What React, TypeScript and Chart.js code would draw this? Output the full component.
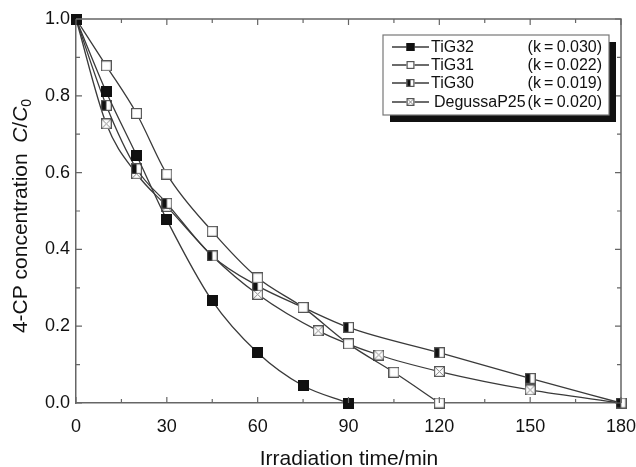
import React, { useEffect, useRef } from "react";
import { Chart, registerables } from "chart.js";
Chart.register(...registerables);

// ---- data ----
const seriesNames = ["TiG32", "TiG31", "TiG30", "DegussaP25"];
const kLabels = ["(k\u2009=\u20090.030)", "(k\u2009=\u20090.022)", "(k\u2009=\u20090.019)", "(k\u2009=\u20090.020)"];

const timesTiG32 = [0, 10, 20, 30, 45, 60, 75, 90];
const valuesTiG32 = [1.0, 0.81, 0.645, 0.477, 0.266, 0.131, 0.045, 0.0];

const timesTiG31 = [0, 10, 20, 30, 45, 60, 75, 90, 105, 120];
const valuesTiG31 = [1.0, 0.878, 0.754, 0.596, 0.447, 0.326, 0.249, 0.154, 0.08, 0.0];

const timesTiG30 = [0, 10, 20, 30, 45, 60, 75, 90, 120, 150, 180];
const valuesTiG30 = [1.0, 0.775, 0.61, 0.52, 0.383, 0.305, 0.249, 0.197, 0.131, 0.064, 0.0];

const timesP25 = [0, 10, 20, 30, 45, 60, 80, 100, 120, 150, 180];
const valuesP25 = [1.0, 0.727, 0.597, 0.512, 0.383, 0.283, 0.188, 0.125, 0.082, 0.034, 0.0];

const xTicks = [0, 30, 60, 90, 120, 150, 180];
const yTicks = [0.0, 0.2, 0.4, 0.6, 0.8, 1.0];

const FONT = "'Liberation Sans', Arial, Helvetica, sans-serif";
const LINE_COLOR = "#3a3a3a";
const AXIS_COLOR = "#666";

type MarkerKind = "filled" | "open" | "half" | "cross";
const markerKinds: MarkerKind[] = ["filled", "open", "half", "cross"];

function drawMarker(ctx: CanvasRenderingContext2D, kind: MarkerKind, cx: number, cy: number, s: number) {
  const x = cx - s / 2;
  const y = cy - s / 2;
  ctx.save();
  ctx.fillStyle = "#fff";
  ctx.fillRect(x, y, s, s);
  if (kind === "filled") {
    ctx.fillStyle = "#111";
    ctx.fillRect(x, y, s, s);
  } else if (kind === "half") {
    ctx.fillStyle = "#111";
    ctx.fillRect(x, y, s / 2, s);
  } else if (kind === "cross") {
    ctx.strokeStyle = "#888";
    ctx.lineWidth = 1;
    ctx.beginPath();
    ctx.moveTo(x + 1, y + 1);
    ctx.lineTo(x + s - 1, y + s - 1);
    ctx.moveTo(x + s - 1, y + 1);
    ctx.lineTo(x + 1, y + s - 1);
    ctx.stroke();
  }
  ctx.strokeStyle = kind === "filled" ? "#111" : "#555";
  ctx.lineWidth = 1.2;
  ctx.strokeRect(x + 0.6, y + 0.6, s - 1.2, s - 1.2);
  ctx.restore();
}

function makeMarkerCanvas(kind: MarkerKind, s: number): HTMLCanvasElement {
  const c = document.createElement("canvas");
  c.width = s;
  c.height = s;
  const ctx = c.getContext("2d")!;
  drawMarker(ctx, kind, s / 2, s / 2, s);
  return c;
}

function toPoints(xs: number[], ys: number[]) {
  return xs.map((x, i) => ({ x, y: ys[i] }));
}

const framePlugin = {
  id: "frame",
  afterDraw(chart: any) {
    const ctx: CanvasRenderingContext2D = chart.ctx;
    const { left, right, top, bottom } = chart.chartArea;
    const xs = chart.scales.x;
    const ys = chart.scales.y;
    ctx.save();
    // top & right border
    ctx.strokeStyle = AXIS_COLOR;
    ctx.lineWidth = 1.5;
    ctx.beginPath();
    ctx.moveTo(left, top);
    ctx.lineTo(right, top);
    ctx.lineTo(right, bottom);
    ctx.stroke();
    // ticks (inward)
    ctx.lineWidth = 1.2;
    ctx.beginPath();
    for (let v = 0; v <= 180; v += 15) {
      const px = xs.getPixelForValue(v);
      const len = v % 30 === 0 ? 6 : 4;
      ctx.moveTo(px, bottom);
      ctx.lineTo(px, bottom - len);
      ctx.moveTo(px, top);
      ctx.lineTo(px, top + len);
    }
    for (let i = 0; i <= 10; i++) {
      const v = i / 10;
      const py = ys.getPixelForValue(v);
      const len = i % 2 === 0 ? 6 : 4;
      ctx.moveTo(left, py);
      ctx.lineTo(left + len, py);
      ctx.moveTo(right, py);
      ctx.lineTo(right - len, py);
    }
    ctx.stroke();

    // axis titles
    ctx.fillStyle = "#111";
    ctx.textBaseline = "alphabetic";
    ctx.textAlign = "center";
    ctx.font = `21px ${FONT}`;
    ctx.fillText("Irradiation time/min", 349, 465);

    // y title with italic C and subscript 0
    const parts: { t: string; f: string; dy: number }[] = [
      { t: "4-CP concentration\u2002", f: `21px ${FONT}`, dy: 0 },
      { t: "C", f: `italic 21px ${FONT}`, dy: 0 },
      { t: "/", f: `21px ${FONT}`, dy: 0 },
      { t: "C", f: `italic 21px ${FONT}`, dy: 0 },
      { t: "0", f: `14px ${FONT}`, dy: 4 },
    ];
    let total = 0;
    for (const p of parts) {
      ctx.font = p.f;
      total += ctx.measureText(p.t).width;
    }
    ctx.save();
    ctx.translate(27, 216);
    ctx.rotate(-Math.PI / 2);
    ctx.textAlign = "left";
    let cx = -total / 2;
    for (const p of parts) {
      ctx.font = p.f;
      ctx.fillText(p.t, cx, p.dy);
      cx += ctx.measureText(p.t).width;
    }
    ctx.restore();

    // legend box with shadow
    const bx = 383, by = 35, bw = 226, bh = 80;
    ctx.fillStyle = "#111";
    ctx.fillRect(bx + 7, by + 7, bw, bh);
    ctx.fillStyle = "#fff";
    ctx.fillRect(bx, by, bw, bh);
    ctx.strokeStyle = "#777";
    ctx.lineWidth = 1.2;
    ctx.strokeRect(bx, by, bw, bh);
    const rowY = [47, 65, 83, 102];
    ctx.font = `16px ${FONT}`;
    ctx.textBaseline = "middle";
    for (let i = 0; i < seriesNames.length; i++) {
      const y = rowY[i];
      ctx.strokeStyle = LINE_COLOR;
      ctx.lineWidth = 1.3;
      ctx.beginPath();
      ctx.moveTo(392, y);
      ctx.lineTo(429, y);
      ctx.stroke();
      drawMarker(ctx, markerKinds[i], 410.5, y, 8);
      ctx.fillStyle = "#111";
      ctx.textAlign = "left";
      ctx.fillText(seriesNames[i], i === 3 ? 434 : 431, y + 1);
      ctx.textAlign = "right";
      ctx.fillText(kLabels[i], 602, y + 1);
    }
    ctx.restore();
  },
};

export default function App() {
  const ref = useRef<HTMLCanvasElement | null>(null);
  useEffect(() => {
    if (!ref.current) return;
    const markers = markerKinds.map((k) => makeMarkerCanvas(k, 11));
    const allX = [timesTiG32, timesTiG31, timesTiG30, timesP25];
    const allY = [valuesTiG32, valuesTiG31, valuesTiG30, valuesP25];
    const datasets = seriesNames.map((name, i) => ({
      label: name,
      data: toPoints(allX[i], allY[i]),
      borderColor: LINE_COLOR,
      borderWidth: 1.3,
      backgroundColor: "#fff",
      pointStyle: markers[i] as any,
      pointRadius: 5,
      cubicInterpolationMode: "monotone" as const,
      clip: false as any,
    }));
    const chart = new Chart(ref.current, {
      type: "line",
      data: { datasets },
      options: {
        animation: false,
        responsive: false,
        events: [],
        layout: { padding: { top: 19, right: 15, left: 0, bottom: 0 } },
        plugins: { legend: { display: false }, tooltip: { enabled: false } },
        scales: {
          x: {
            type: "linear",
            min: 0,
            max: 180,
            afterBuildTicks: (s: any) => {
              s.ticks = xTicks.map((v) => ({ value: v }));
            },
            afterFit: (s: any) => {
              s.height = 64;
              s.paddingLeft = 0;
              s.paddingRight = 0;
            },
            ticks: {
              font: { size: 18, family: FONT },
              color: "#111",
              padding: 13,
              maxRotation: 0,
            },
            grid: { display: false, drawTicks: false },
            border: { display: true, color: AXIS_COLOR, width: 1.5 },
          },
          y: {
            type: "linear",
            min: 0,
            max: 1,
            afterBuildTicks: (s: any) => {
              s.ticks = yTicks.map((v) => ({ value: v }));
            },
            afterFit: (s: any) => {
              s.width = 76;
              s.paddingTop = 0;
              s.paddingBottom = 0;
            },
            ticks: {
              font: { size: 18, family: FONT },
              color: "#111",
              padding: 6,
              callback: (v: any) => Number(v).toFixed(1),
            },
            grid: { display: false, drawTicks: false },
            border: { display: true, color: AXIS_COLOR, width: 1.5 },
          },
        },
      },
      plugins: [framePlugin],
    });
    return () => chart.destroy();
  }, []);
  return (
    <div style={{ position: "absolute", left: 0, top: 0, width: 636, height: 467, background: "#fff" }}>
      <canvas ref={ref} width={636} height={467} style={{ width: 636, height: 467 }} />
    </div>
  );
}
